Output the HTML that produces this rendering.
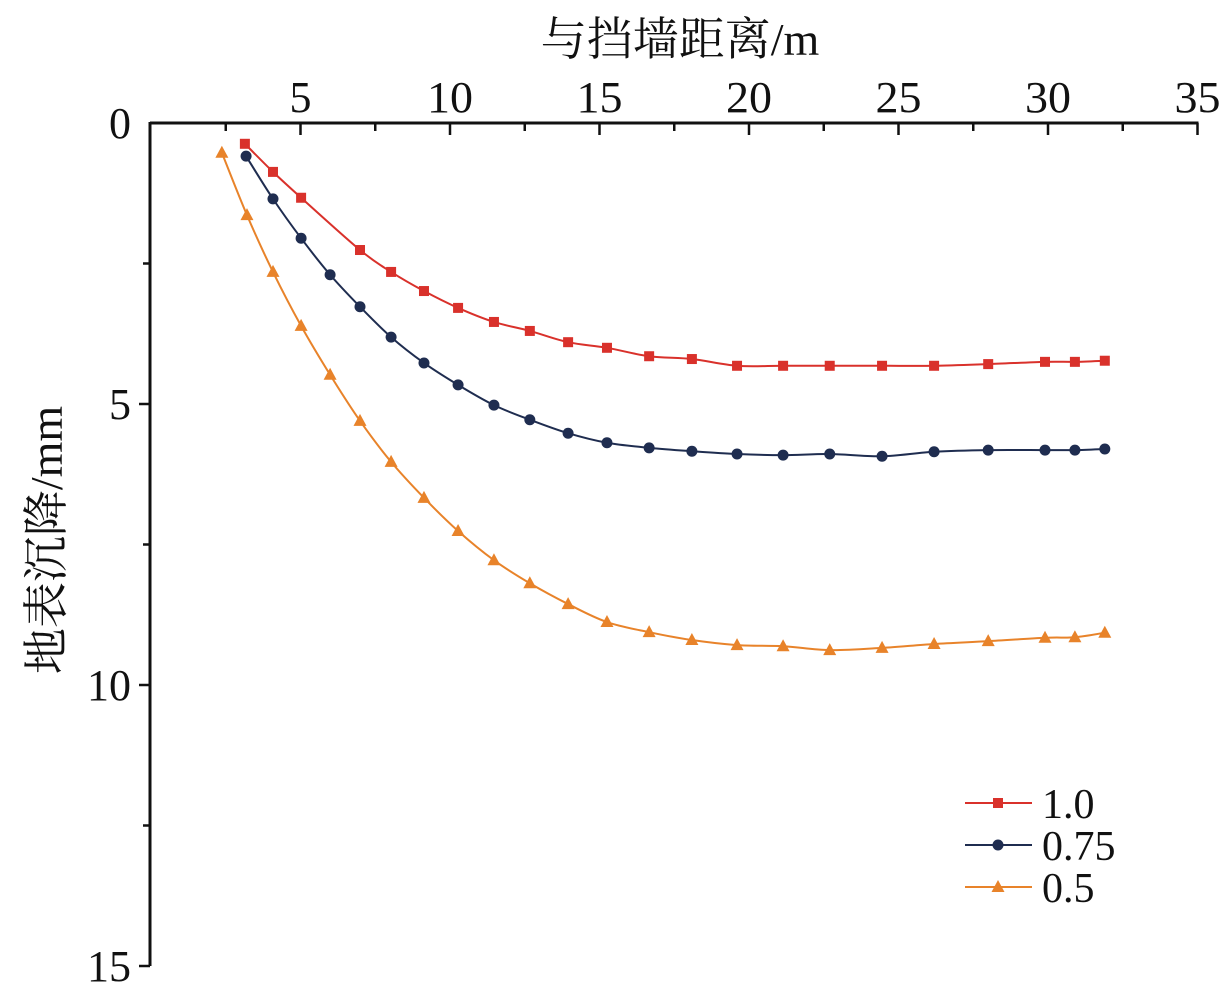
<!DOCTYPE html>
<html><head><meta charset="utf-8"><style>
html,body{margin:0;padding:0;background:#fff;}
svg{display:block;}
text{font-family:"Liberation Serif","Noto Serif CJK SC",serif;fill:#111;}
</style></head><body>
<svg id="chart" width="1220" height="999" viewBox="0 0 1220 999" xmlns="http://www.w3.org/2000/svg">
<g id="axes"></g>
<g id="series"></g>
<g id="legend"></g>
</svg>
<script>
const xTicks=[5,10,15,20,25,30,35];
const yTicks=[0,5,10,15];
const seriesNames=["1.0","0.75","0.5"];
const xRed=[3.14,4.08,5.02,6.99,8.03,9.13,10.27,11.47,12.67,13.95,15.25,16.66,18.09,19.6,21.14,22.7,24.45,26.19,28.0,29.9,30.9,31.9];
const yRed=[0.37,0.87,1.33,2.26,2.65,2.99,3.29,3.54,3.70,3.90,4.00,4.15,4.20,4.32,4.32,4.32,4.32,4.32,4.29,4.25,4.25,4.23];
const xNavy=[3.18,4.08,5.02,5.99,6.99,8.03,9.13,10.27,11.47,12.67,13.95,15.25,16.66,18.09,19.6,21.14,22.7,24.45,26.19,28.0,29.9,30.9,31.9];
const yNavy=[0.59,1.35,2.05,2.70,3.27,3.81,4.27,4.66,5.02,5.28,5.52,5.69,5.78,5.84,5.89,5.91,5.89,5.93,5.85,5.82,5.82,5.82,5.80];
const xOrange=[2.37,3.21,4.08,5.02,5.99,6.99,8.03,9.13,10.27,11.47,12.67,13.95,15.25,16.66,18.09,19.6,21.14,22.7,24.45,26.19,28.0,29.9,30.9,31.9];
const yOrange=[0.53,1.64,2.65,3.61,4.48,5.30,6.03,6.67,7.26,7.78,8.19,8.56,8.88,9.06,9.20,9.29,9.31,9.38,9.34,9.27,9.22,9.16,9.15,9.07];

const NS="http://www.w3.org/2000/svg";
const X0=151,PX=29.9,Y0=123,PY=56.2;
const sx=v=>X0+v*PX, sy=v=>Y0+v*PY;
function mk(tag,attrs,parent,txt){const e=document.createElementNS(NS,tag);for(const k in attrs)e.setAttribute(k,attrs[k]);if(txt!==undefined)e.textContent=txt;parent.appendChild(e);return e;}
const axes=document.getElementById('axes');
let e;
e=mk('line',{x1:150,y1:sy(0),x2:sx(35)+1,y2:sy(0),stroke:'#111','stroke-width':3},axes);


e=mk('line',{x1:150,y1:sy(0)-1,x2:150,y2:sy(15),stroke:'#111','stroke-width':3},axes);


for(let v=2.5;v<=35;v+=2.5){
  const major=(v%5===0);
  e=mk('line',{x1:sx(v),y1:sy(0),x2:sx(v),y2:sy(0)+(major?12:8),stroke:'#111','stroke-width':2.5},axes);
  
  
}
xTicks.forEach(t=>{
  e=mk('text',{x:sx(t),y:112,'text-anchor':'middle','font-size':44,'textLength':t<10?22:46,'lengthAdjust':'spacingAndGlyphs'},axes,String(t));
  
  
});
for(let v=2.5;v<=15;v+=2.5){
  const major=(v%5===0);
  e=mk('line',{x1:150-(major?11:7),y1:sy(v),x2:150,y2:sy(v),stroke:'#111','stroke-width':2.5},axes);
  
  
}
yTicks.forEach(t=>{
  e=mk('text',{x:131,y:sy(t)+15,'text-anchor':'end','font-size':44},axes,String(t));
  
  
});
e=mk('text',{x:680,y:55,'text-anchor':'middle','font-size':46},axes,'与挡墙距离/m');


e=mk('text',{x:0,y:0,'text-anchor':'middle','font-size':46,transform:'translate(62,540) rotate(-90)'},axes,'地表沉降/mm');



function spline(pts){
  let d=`M${pts[0][0]},${pts[0][1]}`;
  for(let i=0;i<pts.length-1;i++){
    const p0=pts[Math.max(0,i-1)],p1=pts[i],p2=pts[i+1],p3=pts[Math.min(pts.length-1,i+2)];
    const c1=[p1[0]+(p2[0]-p0[0])/6,p1[1]+(p2[1]-p0[1])/6];
    const c2=[p2[0]-(p3[0]-p1[0])/6,p2[1]-(p3[1]-p1[1])/6];
    d+=` C${c1[0]},${c1[1]} ${c2[0]},${c2[1]} ${p2[0]},${p2[1]}`;
  }
  return d;
}
function marker(g,type,x,y,color){
  let m;
  if(type==='square') m=mk('rect',{x:x-5,y:y-5,width:10,height:10,fill:color},g);
  else if(type==='circle') m=mk('circle',{cx:x,cy:y,r:5.5,fill:color},g);
  else m=mk('polygon',{points:`${x},${y-7} ${x+6.5},${y+5} ${x-6.5},${y+5}`,fill:color},g);
  return m;
}
const sg=document.getElementById('series');
const defs=[[xRed,yRed,'#d9312b','square','series-1-0'],[xNavy,yNavy,'#1f2d50','circle','series-0-75'],[xOrange,yOrange,'#e8832a','triangle','series-0-5']];
defs.forEach(([xs,ys,c,t,name])=>{
  const g=mk('g',{},sg);
  
  
  const pts=xs.map((v,i)=>[sx(v),sy(ys[i])]);
  e=mk('path',{d:spline(pts),fill:'none',stroke:c,'stroke-width':2},g);
  
  
  pts.forEach(p=>{
    const m=marker(g,t,p[0],p[1],c);
    
    
  });
});
const lg=document.getElementById('legend');
defs.forEach(([xs,ys,c,t,name],i)=>{
  const y=803+i*42;
  const g=mk('g',{},lg);
  
  
  mk('line',{x1:965,y1:y,x2:1032,y2:y,stroke:c,'stroke-width':2},g);
  marker(g,t,998,y,c);
  e=mk('text',{x:1042,y:y+15,'font-size':42},g,seriesNames[i]);
  
  
});
</script>
</body></html>
